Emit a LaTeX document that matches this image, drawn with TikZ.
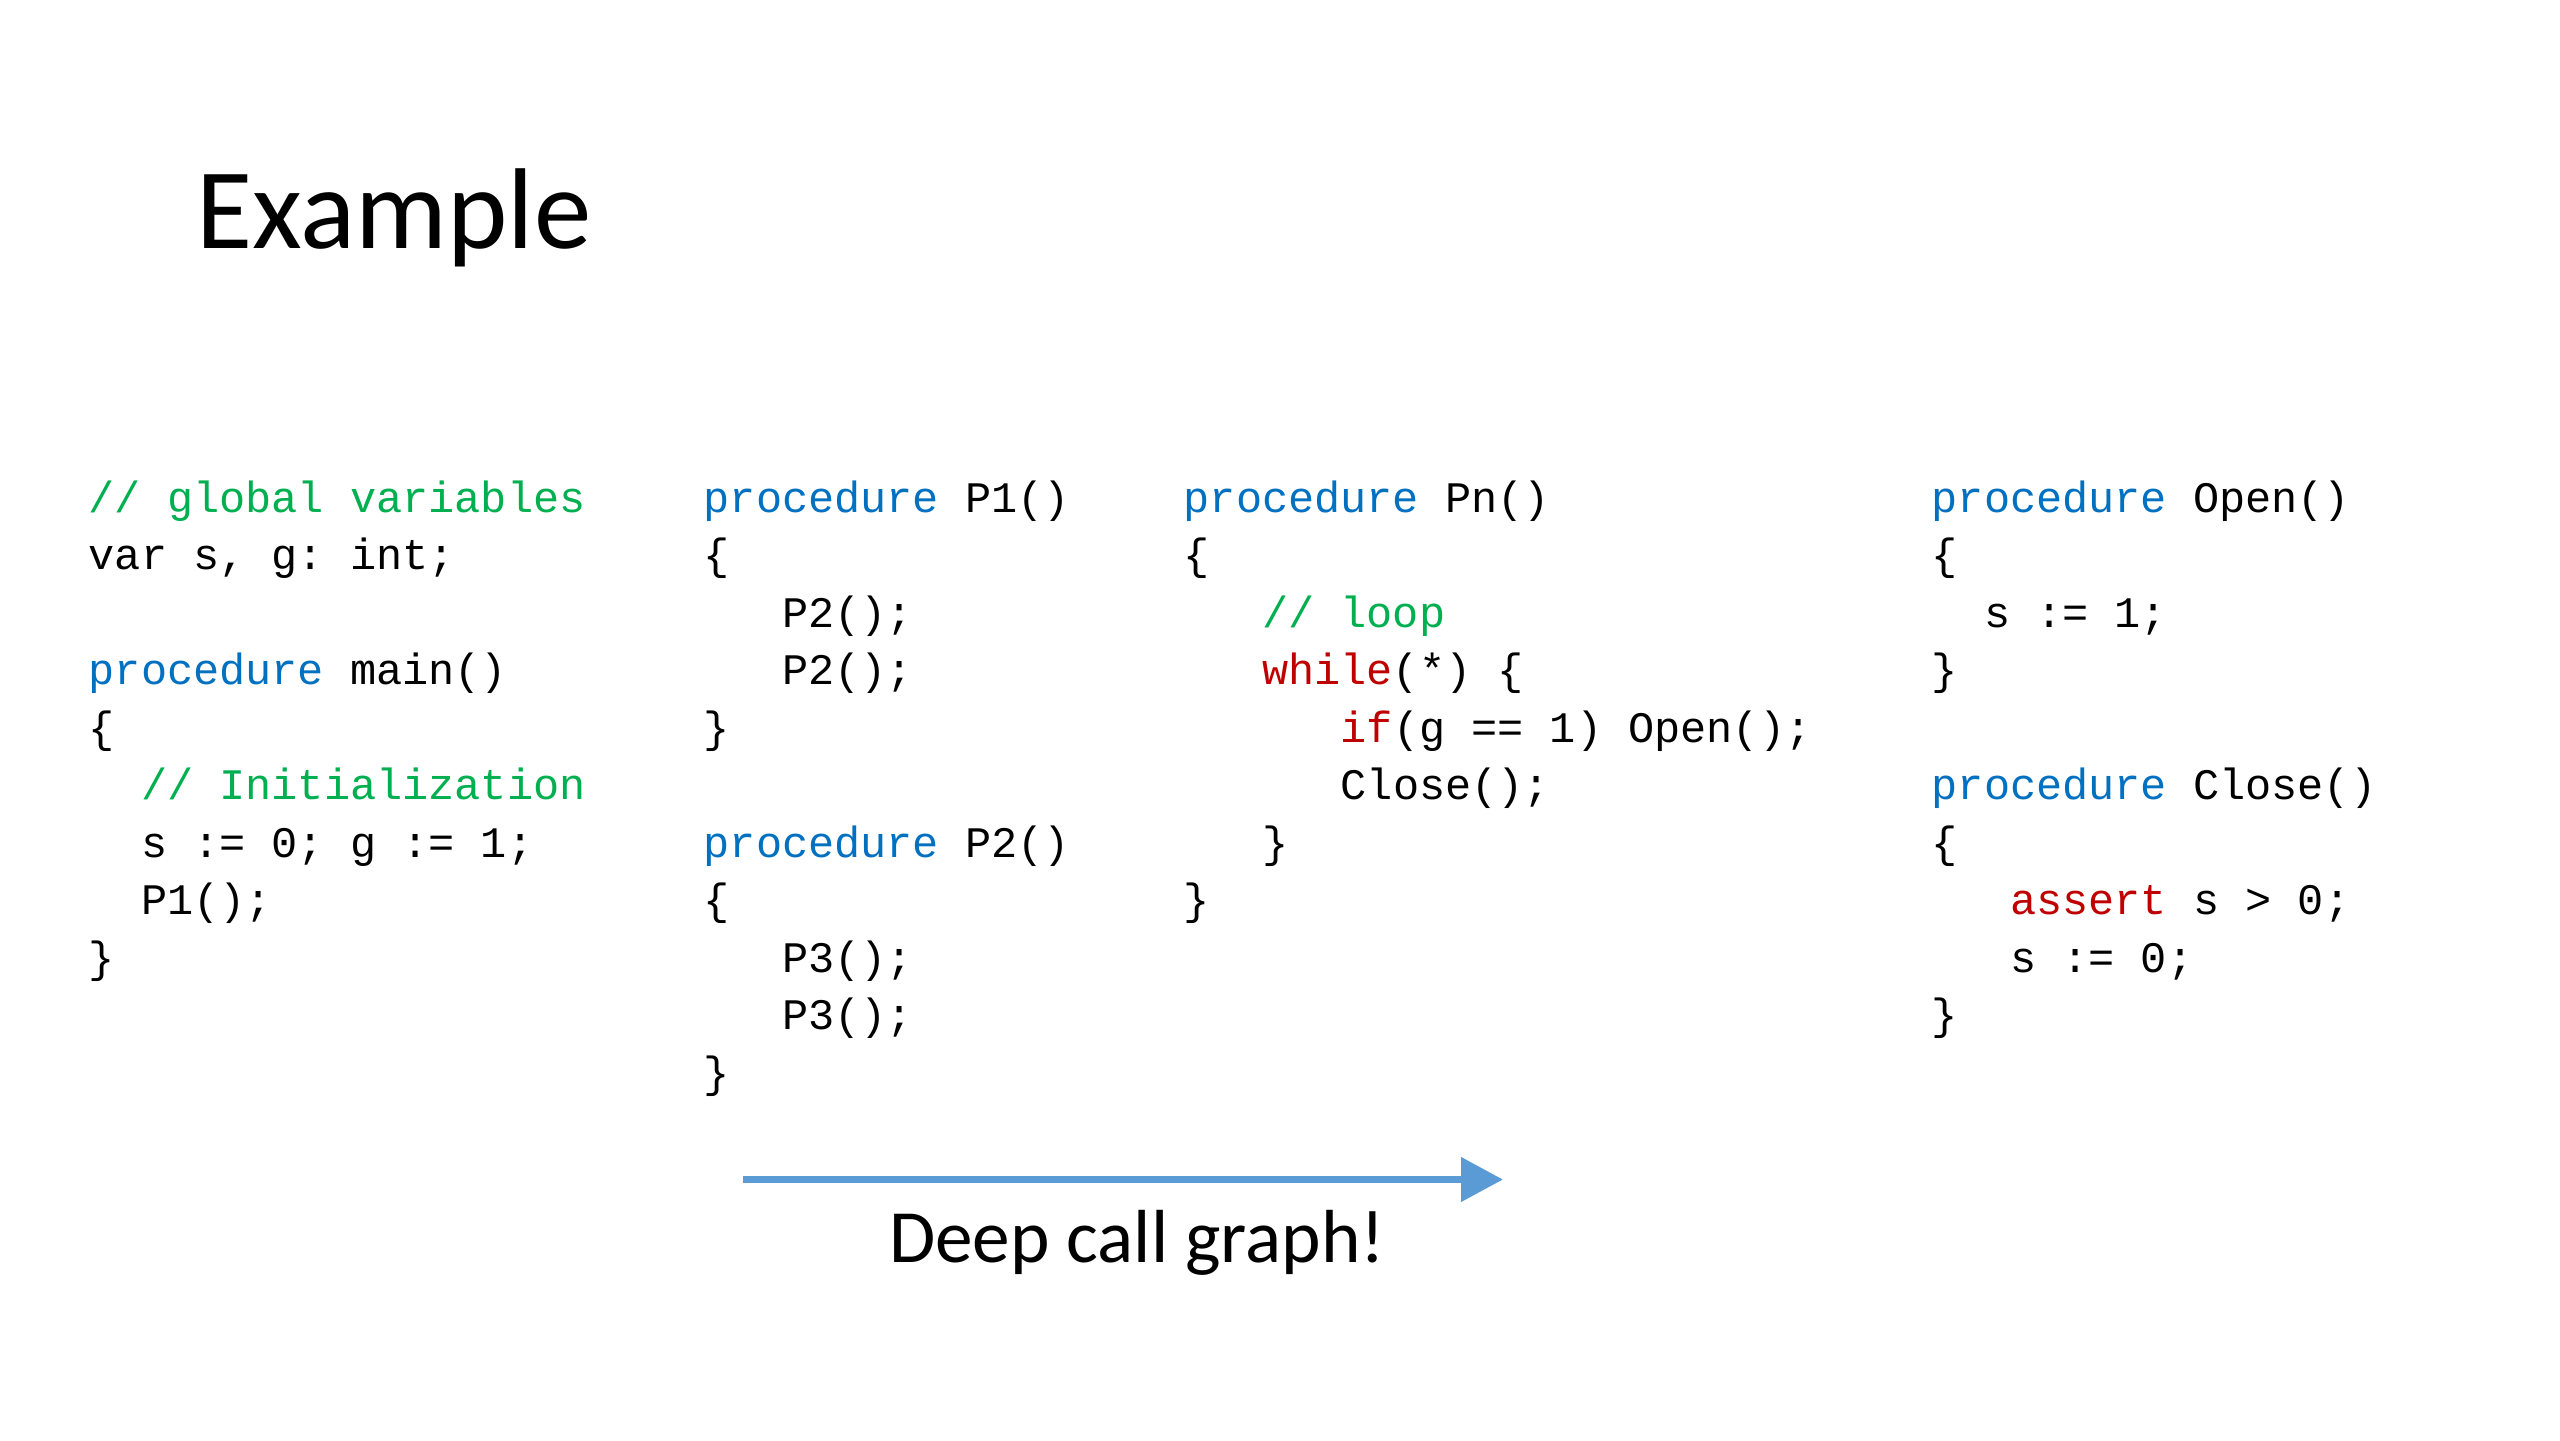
\documentclass[tikz,border=0pt]{standalone}
\usepackage{fontspec}
\setmainfont{Carlito}
\setmonofont{Liberation Mono}
\usetikzlibrary{arrows.meta}

\definecolor{kwblue}{RGB}{0,112,192}
\definecolor{cmtgreen}{RGB}{0,176,80}
\definecolor{kwred}{RGB}{192,0,0}
\definecolor{arrowblue}{RGB}{91,155,213}

\newlength{\cwid}
\setlength{\cwid}{2.617mm}
\newcommand{\ind}[1]{\hspace*{#1\cwid}}
\newcommand{\kw}[1]{\textcolor{kwblue}{#1}}
\newcommand{\cmt}[1]{\textcolor{cmtgreen}{#1}}
\newcommand{\ctl}[1]{\textcolor{kwred}{#1}}

\begin{document}
\begin{tikzpicture}[
    code/.style={font=\ttfamily\fontsize{12.4pt}{16.36pt}\selectfont, align=left, anchor=base west, inner sep=0pt},
    heading/.style={font=\fontsize{32.7pt}{39pt}\selectfont, anchor=base west, inner sep=0pt},
    callnote/.style={font=\fontsize{21.4pt}{26pt}\selectfont, text=black, anchor=base, inner sep=0pt},
    callarrow/.style={arrowblue, line width=0.75mm, -{Triangle[length=4.2mm,width=4.3mm]}}
]

\fill[white] (0,0) rectangle (25.6,-14.4);

% Title
\node[heading] (title) at (1.96,-2.48) {Example};

% Globals and main (placed by the baseline of their last line)
\node[code] (globals) at (0.88,-5.695) {
    \cmt{// global variables}\\
    var s, g: int;
};

\node[code] (main) at (0.88,-9.72) {
    \kw{procedure} main()\\
    \{\\
    \ind{2}\cmt{// Initialization}\\
    \ind{2}s := 0; g := 1;\\
    \ind{2}P1();\\
    \}
};

% P1 and P2
\node[code] (p1) at (7.03,-7.42) {
    \kw{procedure} P1()\\
    \{\\
    \ind{3}P2();\\
    \ind{3}P2();\\
    \}
};

\node[code] (p2) at (7.03,-10.87) {
    \kw{procedure} P2()\\
    \{\\
    \ind{3}P3();\\
    \ind{3}P3();\\
    \}
};

% Pn
\node[code] (pn) at (11.83,-9.145) {
    \kw{procedure} Pn()\\
    \{\\
    \ind{3}\cmt{// loop}\\
    \ind{3}\ctl{while}(*) \{\\
    \ind{6}\ctl{if}(g == 1) Open();\\
    \ind{6}Close();\\
    \ind{3}\}\\
    \}
};

% Open and Close
\node[code] (open) at (19.31,-6.845) {
    \kw{procedure} Open()\\
    \{\\
    \ind{2}s := 1;\\
    \}
};

\node[code] (close) at (19.31,-10.295) {
    \kw{procedure} Close()\\
    \{\\
    \ind{3}\ctl{assert} s > 0;\\
    \ind{3}s := 0;\\
    \}
};

% Call depth arrow
\coordinate (cgstart) at (7.43,-11.795);
\coordinate (cgend) at (15.03,-11.795);
\draw[callarrow] (cgstart) -- (cgend)
    node[callnote, midway, xshift=1.4mm, yshift=-8.25mm] (cglabel) {Deep call graph!};

\end{tikzpicture}
\end{document}
